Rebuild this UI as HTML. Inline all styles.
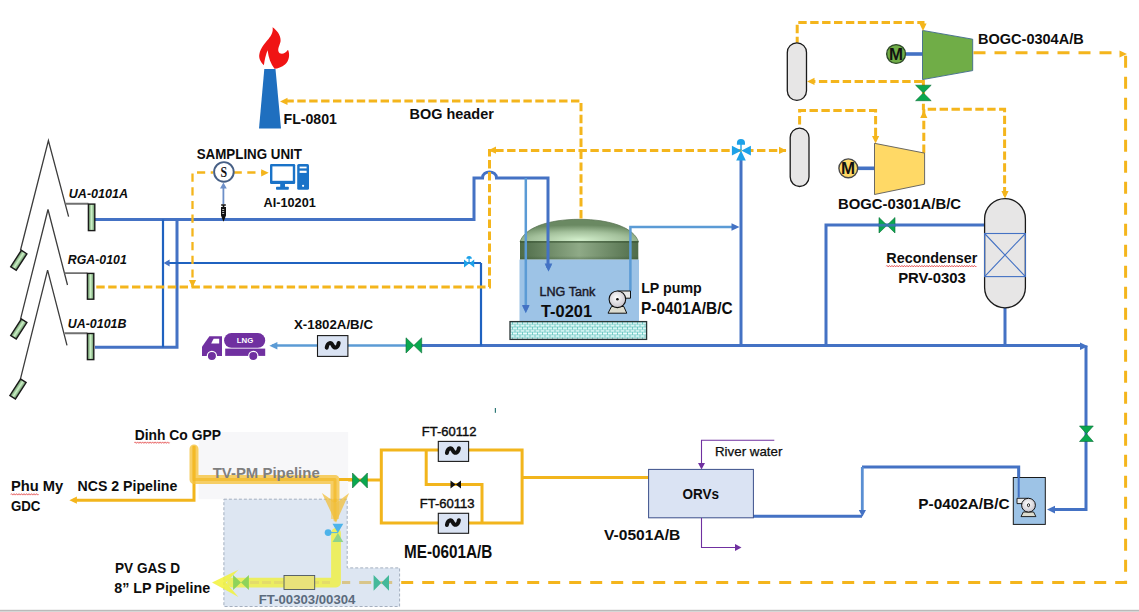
<!DOCTYPE html>
<html><head><meta charset="utf-8">
<style>
html,body{margin:0;padding:0;background:#fff;width:1139px;height:612px;overflow:hidden}
svg{position:absolute;left:0;top:0;display:block}
text{font-family:"Liberation Sans",sans-serif}
.b{font-weight:bold}
</style></head><body>
<svg width="1139" height="612" viewBox="0 0 1139 612">
<defs>
<linearGradient id="nz" x1="0" x2="1" y1="0" y2="0"><stop offset="0" stop-color="#5e8a5c"/><stop offset="0.5" stop-color="#cdf2c8"/><stop offset="1" stop-color="#5e8a5c"/></linearGradient>
</defs>
<rect x="0" y="609.8" width="1139" height="1.2" fill="#bababa"/><rect x="0" y="611" width="1139" height="1" fill="#d6d6d6"/>

<!-- ===== TANK ===== -->
<defs>
<radialGradient id="dome" cx="0.5" cy="1" r="0.75" fx="0.5" fy="0.9"><stop offset="0" stop-color="#d2eecb"/><stop offset="0.55" stop-color="#a3c09b"/><stop offset="1" stop-color="#6a8962"/></radialGradient>
<linearGradient id="band" x1="0" x2="1" y1="0" y2="0"><stop offset="0" stop-color="#4f6c49"/><stop offset="0.5" stop-color="#8faa87"/><stop offset="1" stop-color="#4f6c49"/></linearGradient>
<linearGradient id="bandv" x1="0" x2="0" y1="0" y2="1"><stop offset="0" stop-color="#2f4a2a" stop-opacity="0.9"/><stop offset="0.12" stop-color="#2f4a2a" stop-opacity="0"/><stop offset="0.8" stop-color="#2f4a2a" stop-opacity="0"/><stop offset="1" stop-color="#2f4a2a" stop-opacity="0.35"/></linearGradient>
<pattern id="brick" width="5" height="5.2" patternUnits="userSpaceOnUse" x="510" y="321.8">
<rect width="5" height="5.2" fill="#e6fafa"/>
<path d="M0 0H5M0 2.6H5M0 5.2H5M2.5 0V2.6M0 2.6V5.2M5 2.6V5.2" stroke="#52bdb5" stroke-width="0.7"/>
</pattern>
</defs>
<path d="M520 242C524 228 548 219.3 579.3 219.3C610.5 219.3 634.5 228 638.5 242Z" fill="url(#dome)" stroke="#56704f" stroke-width="0.7"/>
<rect x="520" y="241.3" width="118.3" height="18.3" fill="url(#band)"/>
<rect x="520" y="241.3" width="118.3" height="18.3" fill="url(#bandv)"/>
<rect x="519.5" y="259.6" width="119.5" height="62" fill="#9dc3e6"/>
<rect x="510" y="321.6" width="136.6" height="17.8" fill="url(#brick)" stroke="#2a3535" stroke-width="1.3"/>
<g fill="#5b9bd5"><path d="M522.3 306L525.8 313.2L529.3 306Z"/><path d="M545 264.5L548.5 271.5L552 264.5Z"/></g>

<!-- ===== PIPES BLUE ===== -->
<g fill="none" stroke="#4472c4" stroke-width="3">
<path d="M95 219.5H474V178H482.5C482.5 170 496.5 170 496.5 178H548V268"/>
<path d="M177 219.5V347.3H95"/>
<path d="M421 345.4H1083M1086 345.4V509.6H1050"/>
<path d="M741 157V345.4"/>
<path d="M984 225H826V345.4M1005 308V345.4"/>
<path d="M753 516.3H862M862 467H1018.7V498"/>
</g>
<g fill="none" stroke="#1f62c0" stroke-width="2.2">
<path d="M481 263H166M481 263V345.4M163 219.5V347.3"/>
</g>
<g fill="none" stroke="#5b9bd5" stroke-width="2.5">
<path d="M525.8 178V309"/>
<path d="M630.4 291V227H736"/>
<path d="M406 345.4H272"/>
<path d="M862.3 467V511" stroke-width="2.8" stroke="#5a8fd3"/>
</g>

<!-- ===== YELLOW DASHED ===== -->
<g fill="none" stroke="#f4b51c" stroke-width="3" stroke-dasharray="8.4 3.5">
<path d="M581 220V101H284" stroke-dashoffset="10.3"/>
<path d="M786 150.4H489.5V287H95" stroke-dashoffset="3.2"/>
<path d="M192.5 287V172.5H213" stroke-width="2.3" stroke-dasharray="8.2 5.5" stroke-dashoffset="4.3"/>
<path d="M233.6 172.5H264" stroke-width="2.3" stroke-dasharray="8.2 5.5"/>
<path d="M973.5 52.7H1120" stroke-dasharray="12 9"/>
<path d="M401 582.4H1125.6V53" stroke-dasharray="12 9" stroke-dashoffset="20.8"/>
<path d="M797.2 42.7V22.4H923V28" stroke-dashoffset="2.4"/>
<path d="M922.5 81.4H810"/>
<path d="M923.4 80V110M923.8 153V109.3H1004.6V196"/>
<path d="M799.6 124.5V110.6H875.6V140"/>
</g>

<!-- ===== YELLOW SOLID (bottom) ===== -->
<g fill="none" stroke="#f2b51c" stroke-width="3">
<path d="M73 500.2H194V446"/>
<path d="M337 480H381.3"/>
<path d="M381.3 450H522.1V523.1H381.3Z"/>
<path d="M426.2 450V484.5H482V523.1"/>
<path d="M522.1 477.4H648.4"/>
</g>


<!-- ===== LOADING ARMS ===== -->
<g fill="none" stroke="#3c3c3c" stroke-width="1.3">
<path d="M20.4 250.5L48.4 140.7L68.6 216.7"/>
<path d="M20.4 319.6L48 209.5L67.5 285"/>
<path d="M20.4 379.2L47.6 270.1L67 345.4"/>
<path d="M65.4 203.8H88.4M64.5 273.1H87.4M64.5 333.3H87.4" stroke="#707070" stroke-width="1.9"/>
</g>
<g fill="url(#nz)" stroke="#1a1a1a" stroke-width="1.4">
<rect x="88.4" y="204.1" width="6.4" height="26.5"/>
<rect x="87.4" y="273.4" width="6.4" height="25.8"/>
<rect x="87.4" y="333.5" width="6.4" height="26.1"/>
<rect x="-3.3" y="-9.8" width="6.6" height="19.6" transform="translate(18.8 260.3) rotate(33)"/>
<rect x="-3.3" y="-9.8" width="6.6" height="19.6" transform="translate(18.8 329) rotate(33)"/>
<rect x="-3.3" y="-9.8" width="6.6" height="19.6" transform="translate(18 389) rotate(33)"/>
</g>

<!-- ===== FLARE ===== -->
<path d="M264.3 69H275.5L281 128.4H259Z" fill="#1f6fbf"/>
<path d="M272.5 27.3C276.5 30 281 35 280.6 41C280 45 277.5 48 278.5 51.5C279.5 54.5 284.5 55 288 49.8C290 54 289.5 61 285 64.5C282 67 277.5 68.6 274.5 68.8C271 64 268.5 58 267.6 50.2C266 54 264.5 60 263.9 65.3C260.5 62 258.5 58 259.4 54C260.5 48 265 43 268.5 39C271.5 35.5 273.5 31 272.5 27.3Z" fill="#f01414"/>

<!-- ===== SAMPLING ===== -->
<circle cx="223.9" cy="171.9" r="9.8" fill="#fff" stroke="#465f85" stroke-width="1.9"/>
<text x="0" y="0" style="font-family:'Liberation Serif',serif;font-weight:bold" font-size="14.5" text-anchor="middle" fill="#111" transform="translate(223.7 176.9) scale(0.82 1)">S</text>
<path d="M223.4 204V185" stroke="#6d8fc8" stroke-width="1.8"/>
<path d="M223.4 182.5L220 188.5H226.8Z" fill="#6d8fc8"/>
<path d="M221.2 204.3H225.8V205.8H224.3V207H226V215.5L223.5 221.8L221 215.5V207H222.7V205.8H221.2Z" fill="#111"/>
<path d="M222.2 209.5H224.2M222.2 211.5H224.2M222.2 213.5H224.2" stroke="#fff" stroke-width="0.7"/>
<!-- computer -->
<rect x="270" y="164" width="25.2" height="20" rx="1.2" fill="#1a73c8"/>
<rect x="272.4" y="166.4" width="20.4" height="14.4" fill="#fff"/>
<rect x="280.2" y="183.5" width="4.8" height="3.6" fill="#1a73c8"/>
<rect x="276" y="186.8" width="12.8" height="3" rx="0.8" fill="#1a73c8"/>
<rect x="297.2" y="164" width="11.8" height="25.8" rx="1.5" fill="#1a73c8"/>
<rect x="299.6" y="166.6" width="7" height="1.8" fill="#fff"/>
<rect x="299.6" y="170.7" width="7" height="2.2" fill="#fff"/>
<circle cx="303.1" cy="185.8" r="1.1" fill="#fff"/>

<!-- LP pump -->
<defs><radialGradient id="pg" cx="0.45" cy="0.4" r="0.6"><stop offset="0" stop-color="#ffffff"/><stop offset="1" stop-color="#c8c4cc"/></radialGradient></defs>
<path d="M611.5 306.5L608 313.2H626.8L623.8 306.5Z" fill="#dcdcd0" stroke="#111" stroke-width="1"/>
<path d="M617.5 291H630.5V298.2H623" fill="#e8e8e8" stroke="#111" stroke-width="1"/>
<circle cx="617.4" cy="299.3" r="8.3" fill="url(#pg)" stroke="#111" stroke-width="1.1"/>
<circle cx="617.4" cy="299.3" r="1.3" fill="#111"/>


<!-- ===== TRUCK ===== -->
<g fill="#7030a0">
<rect x="224.1" y="333.1" width="41.1" height="14.7" rx="7.35"/>
<rect x="225.2" y="348.6" width="40" height="7.3"/>
<path d="M209.4 336.2H222V355.9H202V346.8Z"/>
<circle cx="211.9" cy="356" r="4.6" stroke="#fff" stroke-width="1.2"/>
<circle cx="253.3" cy="356" r="4.6" stroke="#fff" stroke-width="1.2"/>
</g>
<path d="M211.2 343.6L213.6 338.7H219.2V343.6Z" fill="#fff"/>
<text x="236.8" y="343" font-size="6.8" font-weight="bold" fill="#fff" textLength="16.5" lengthAdjust="spacingAndGlyphs">LNG</text>

<!-- ===== FILTER BOXES ===== -->
<g fill="#dae3f3" stroke="#1a1a1a" stroke-width="1.1">
<rect x="317.5" y="335.6" width="30.4" height="20.8"/>
<rect x="438.3" y="441.4" width="30.3" height="20"/>
<rect x="438.3" y="513.3" width="30.3" height="20"/>
</g>
<g fill="none" stroke="#111" stroke-width="4" stroke-linecap="round">
<path d="M-6 2.4C-5 -3.6 -1.5 -3 0 0C1.5 3 5 3.6 6 -2.4" transform="translate(332.7 345.3)"/>
<path d="M-6 2.4C-5 -3.6 -1.5 -3 0 0C1.5 3 5 3.6 6 -2.4" transform="translate(452.9 450.6)"/>
<path d="M-6 2.4C-5 -3.6 -1.5 -3 0 0C1.5 3 5 3.6 6 -2.4" transform="translate(452.9 522.6)"/>
</g>

<!-- ===== VALVES ===== -->
<g fill="#0aa84f" stroke="#0b6b35" stroke-width="0.6">
<path d="M406 337.8L421.7 353V337.8L406 353Z"/>
<path d="M879 217.5L895 233V217.5L879 233Z"/>
<path d="M352.5 473L367.4 488V473L352.5 488Z"/>
<path d="M915.6 85.2H931.2L915.6 100.7H931.2Z"/>
<path d="M1079.5 426H1093.3L1079.5 441.5H1093.3Z"/>
</g>
<path d="M878 225.2H896" stroke="#4472c4" stroke-width="2.8" stroke-opacity="0.75"/>
<path d="M450.5 480.5L461 488.5V480.5L450.5 488.5Z" fill="#111"/>
<g fill="#1da1e8">
<path d="M731.9 145.8L750.9 155.6V145.8L731.9 155.6Z"/>
<path d="M741 150.4L736.2 160.5H745.8Z"/>
<path d="M736.9 144.7V143.1A4.05 4.05 0 0 1 745 143.1V144.7Z"/>
<rect x="740.3" y="144" width="1.4" height="6"/>
<path d="M464 259.5L474.2 267.5V259.5L464 267.5Z"/>
<path d="M466.4 258.8A2.7 2.7 0 0 1 471.8 258.8Z"/>
<rect x="468.5" y="258" width="1.2" height="5"/>
</g>

<!-- ===== VESSELS ===== -->
<g fill="#e7e6e6" stroke="#1a1a1a" stroke-width="1.3">
<rect x="787.3" y="42.8" width="19.2" height="57.6" rx="9.6"/>
<rect x="790.2" y="128.1" width="18.8" height="58.4" rx="9.4"/>
<rect x="984.6" y="198.6" width="40.8" height="109.2" rx="20.4"/>
</g>
<g fill="none" stroke="#4472c4" stroke-width="1.1">
<rect x="984.6" y="233.5" width="40.8" height="43.1"/>
<path d="M984.6 233.5L1025.4 276.6M1025.4 233.5L984.6 276.6"/>
</g>

<!-- ===== COMPRESSORS ===== -->
<path d="M906 54H922.5" stroke="#4472c4" stroke-width="3.6"/>
<path d="M858 168.3H874.5" stroke="#4472c4" stroke-width="3.6"/>
<path d="M922.5 30.4L972.7 39.2V70.6L922.5 79.6Z" fill="#70ad47" stroke="#3f6a8a" stroke-width="0.9"/>
<path d="M874.5 143.3L924.6 153.1V184.2L874.5 194.5Z" fill="#ffd966" stroke="#5a5a5a" stroke-width="0.9"/>
<circle cx="896.1" cy="54" r="9.4" fill="#70ad47" stroke="#2f4a2a" stroke-width="1.4"/>
<circle cx="848.3" cy="168.3" r="9.4" fill="#ffd966" stroke="#4a4a4a" stroke-width="1.4"/>
<text x="0" y="0" font-size="15.6" font-weight="bold" text-anchor="middle" fill="#111" transform="translate(896 59.6) scale(1.08 1)">M</text>
<text x="0" y="0" font-size="15.6" font-weight="bold" text-anchor="middle" fill="#111" transform="translate(848.1 173.7) scale(1.08 1)">M</text>

<!-- ===== ORV ===== -->
<rect x="648.6" y="469.4" width="104.8" height="48.4" fill="#dae3f3" stroke="#3b4f8a" stroke-width="1"/>
<g fill="none" stroke="#7030a0" stroke-width="1.1">
<path d="M774.3 440.3H701.5V465M701.5 518V547.5H737"/>
</g>
<g fill="#7030a0">
<path d="M698 463L701.5 469.5L705 463Z"/>
<path d="M735 544L741.5 547.5L735 551Z"/>
</g>

<!-- ===== P-0402 ===== -->
<rect x="1013.3" y="477.5" width="32" height="46.9" fill="#9dc3e6" stroke="#1a1a1a" stroke-width="1"/>

<!-- ===== ARROWS ===== -->
<path fill="#4472c4" d="M548.5 271.5L544.7 263.5L552.3 263.5ZM525.8 313.0L522.0 305.0L529.6 305.0ZM739.5 227.0L731.5 223.2L731.5 230.8ZM163.6 263.0L169.6 259.6L169.6 266.4ZM1088.0 346.2L1080.0 342.4L1080.0 350.0ZM1047.0 509.6L1055.0 505.8L1055.0 513.4ZM862.4 516.8L858.8 510L866 510Z"/>
<path fill="#5b9bd5" d="M269.4 345.7L277.4 341.9L277.4 349.5Z"/>
<path fill="#f4b51c" d="M280.0 101.4L287.5 97.8L287.5 105.0ZM488.5 150.2L496.0 146.6L496.0 153.8ZM192.5 287.5L188.9 280.0L196.1 280.0ZM268.7 172.8L261.2 169.2L261.2 176.4ZM786.5 150.4L779.0 146.8L779.0 154.0ZM923.0 31.0L919.4 23.5L926.6 23.5ZM807.0 81.4L814.5 77.8L814.5 85.0ZM875.6 143.5L872.0 136.0L879.2 136.0ZM923.8 110.5L920.2 118.0L927.4 118.0ZM1005.0 198.5L1001.4 191.0L1008.6 191.0ZM1127.0 54.0L1119.5 50.4L1119.5 57.6ZM69.4 500.2L76.9 496.6L76.9 503.8Z"/>

<!-- P-0402 pump icon -->
<path d="M1018.7 466.9V497.5" stroke="#4472c4" stroke-width="2"/>
<path d="M1023.3 512L1021 516.6H1035.9L1033.6 512Z" fill="#dcdcd0" stroke="#111" stroke-width="0.9"/>
<path d="M1028.5 498.3H1017V503.6H1023" fill="#ececec" stroke="#111" stroke-width="0.9"/>
<circle cx="1028.5" cy="505.2" r="6.9" fill="url(#pg)" stroke="#111" stroke-width="1"/>
<ellipse cx="1028.5" cy="505.2" rx="1.1" ry="1.5" fill="none" stroke="#111" stroke-width="0.9"/>

<!-- ===== BOTTOM LEFT OVERLAY ===== -->
<rect x="198.6" y="432.1" width="149.6" height="67.1" fill="#f7f7f9"/>
<path d="M223.9 499.2H347.2V567.9H399.6V606.5H223.9Z" fill="#dde6f2" stroke="#a4afbf" stroke-width="1" stroke-dasharray="3 2"/>
<g fill="none" stroke-linecap="round" stroke-linejoin="round">
<path d="M194 449V479.5H335V498" stroke="#f5c340" stroke-opacity="0.8" stroke-width="9"/>
<path d="M335 499V519" stroke="#f5c340" stroke-opacity="0.55" stroke-width="8" stroke-linecap="butt"/>
<path d="M194 447V479.5H335V520" stroke="#f2b51c" stroke-opacity="0.6" stroke-width="3"/>
</g>
<path d="M321.9 493L336 522.7L349.2 493L336 503Z" fill="#f2bf3a" fill-opacity="0.75"/>
<path d="M339 479.5H352" stroke="#f2b51c" stroke-width="3"/>
<path d="M342 582.4H401" stroke="#d8c58a" stroke-width="3" stroke-dasharray="12 9" stroke-dashoffset="3.8"/>
<g fill="none" stroke-linecap="round" stroke-linejoin="round">
<path d="M336 533V582.6H232" stroke="#f0f03c" stroke-opacity="0.8" stroke-width="9.8"/>
</g>
<path d="M212 582.4L238.4 569.7L226 582.4L238.4 596.9Z" fill="#f2f23a" fill-opacity="0.85"/>
<path d="M250 582.4H330" stroke="#e0d070" stroke-width="3" stroke-dasharray="9 3" stroke-opacity="0.6"/>
<rect x="284" y="575.5" width="30.7" height="14" fill="#e8e27a" stroke="#4a5560" stroke-width="0.9"/>
<path d="M233.1 575L248.9 589.9V575L233.1 589.9Z" fill="#8ed35a"/>
<path d="M373.6 575L389 590.7V575L373.6 590.7Z" fill="#45b99a"/>
<g>
<path d="M332.5 523.8H343.3L337.9 533.1Z" fill="#4db3ea"/>
<path d="M332.5 542H343.3L337.9 533.1Z" fill="#8fd48a"/>
<circle cx="328.1" cy="532.6" r="3.4" fill="#4db3ea"/>
<path d="M328.1 532.6H337.9" stroke="#4db3ea" stroke-width="1"/>
</g>

<!-- wavy underlines -->
<g fill="none" stroke="#e03535" stroke-width="0.9">
<path d="M886.3 266.2q0.625 -1.4 1.25 0t1.25 0q0.625 -1.4 1.25 0t1.25 0q0.625 -1.4 1.25 0t1.25 0q0.625 -1.4 1.25 0t1.25 0q0.625 -1.4 1.25 0t1.25 0q0.625 -1.4 1.25 0t1.25 0q0.625 -1.4 1.25 0t1.25 0q0.625 -1.4 1.25 0t1.25 0q0.625 -1.4 1.25 0t1.25 0q0.625 -1.4 1.25 0t1.25 0q0.625 -1.4 1.25 0t1.25 0q0.625 -1.4 1.25 0t1.25 0q0.625 -1.4 1.25 0t1.25 0q0.625 -1.4 1.25 0t1.25 0q0.625 -1.4 1.25 0t1.25 0q0.625 -1.4 1.25 0t1.25 0q0.625 -1.4 1.25 0t1.25 0q0.625 -1.4 1.25 0t1.25 0q0.625 -1.4 1.25 0t1.25 0q0.625 -1.4 1.25 0t1.25 0q0.625 -1.4 1.25 0t1.25 0q0.625 -1.4 1.25 0t1.25 0q0.625 -1.4 1.25 0t1.25 0q0.625 -1.4 1.25 0t1.25 0q0.625 -1.4 1.25 0t1.25 0q0.625 -1.4 1.25 0t1.25 0q0.625 -1.4 1.25 0t1.25 0q0.625 -1.4 1.25 0t1.25 0q0.625 -1.4 1.25 0t1.25 0q0.625 -1.4 1.25 0t1.25 0q0.625 -1.4 1.25 0t1.25 0q0.625 -1.4 1.25 0t1.25 0q0.625 -1.4 1.25 0t1.25 0q0.625 -1.4 1.25 0t1.25 0q0.625 -1.4 1.25 0t1.25 0q0.625 -1.4 1.25 0t1.25 0"/>
<path d="M134.5 442.6q0.625 -1.4 1.25 0t1.25 0q0.625 -1.4 1.25 0t1.25 0q0.625 -1.4 1.25 0t1.25 0q0.625 -1.4 1.25 0t1.25 0q0.625 -1.4 1.25 0t1.25 0q0.625 -1.4 1.25 0t1.25 0q0.625 -1.4 1.25 0t1.25 0q0.625 -1.4 1.25 0t1.25 0q0.625 -1.4 1.25 0t1.25 0q0.625 -1.4 1.25 0t1.25 0q0.625 -1.4 1.25 0t1.25 0q0.625 -1.4 1.25 0t1.25 0q0.625 -1.4 1.25 0t1.25 0q0.625 -1.4 1.25 0t1.25 0"/>
<path d="M10.9 494.4q0.625 -1.4 1.25 0t1.25 0q0.625 -1.4 1.25 0t1.25 0q0.625 -1.4 1.25 0t1.25 0q0.625 -1.4 1.25 0t1.25 0q0.625 -1.4 1.25 0t1.25 0q0.625 -1.4 1.25 0t1.25 0q0.625 -1.4 1.25 0t1.25 0q0.625 -1.4 1.25 0t1.25 0q0.625 -1.4 1.25 0t1.25 0q0.625 -1.4 1.25 0t1.25 0q0.625 -1.4 1.25 0t1.25 0"/>
</g>
<rect x="494.8" y="408" width="1.2" height="4.8" fill="#2f7a78"/>

<!-- ===== LABELS ===== -->
<g class="b" fill="#0d0d0d">
<text x="283.5" y="123.8" font-size="14.5" textLength="53.5" lengthAdjust="spacingAndGlyphs">FL-0801</text>
<text x="409.5" y="119" font-size="14.5" textLength="84.3" lengthAdjust="spacingAndGlyphs">BOG header</text>
<text x="196.7" y="159" font-size="14.5" textLength="105.3" lengthAdjust="spacingAndGlyphs">SAMPLING UNIT</text>
<text x="263.6" y="207" font-size="12.5" textLength="52.2" lengthAdjust="spacingAndGlyphs">AI-10201</text>
<text x="294" y="329.4" font-size="13.5" textLength="79" lengthAdjust="spacingAndGlyphs">X-1802A/B/C</text>
<text x="541" y="317" font-size="17" textLength="51" lengthAdjust="spacingAndGlyphs">T-0201</text>
<text x="641.2" y="293" font-size="15" textLength="60.5" lengthAdjust="spacingAndGlyphs">LP pump</text>
<text x="641" y="313.6" font-size="17" textLength="91.6" lengthAdjust="spacingAndGlyphs">P-0401A/B/C</text>
<text x="978" y="43.5" font-size="15.5" textLength="105.7" lengthAdjust="spacingAndGlyphs">BOGC-0304A/B</text>
<text x="838" y="209.3" font-size="15" textLength="123" lengthAdjust="spacingAndGlyphs">BOGC-0301A/B/C</text>
<text x="886.3" y="262.9" font-size="15" textLength="91" lengthAdjust="spacingAndGlyphs">Recondenser</text>
<text x="898.2" y="282.6" font-size="15" textLength="67.6" lengthAdjust="spacingAndGlyphs">PRV-0303</text>
<text x="134.7" y="440" font-size="14.5" textLength="86.3" lengthAdjust="spacingAndGlyphs">Dinh Co GPP</text>
<text x="10.9" y="491.4" font-size="14.5" textLength="52.3" lengthAdjust="spacingAndGlyphs">Phu My</text>
<text x="10.9" y="511.3" font-size="14.5" textLength="29.5" lengthAdjust="spacingAndGlyphs">GDC</text>
<text x="77.6" y="491.4" font-size="14.5" textLength="99.7" lengthAdjust="spacingAndGlyphs">NCS 2 Pipeline</text>
<text x="115" y="572.6" font-size="14.5" textLength="65" lengthAdjust="spacingAndGlyphs">PV GAS D</text>
<text x="114.3" y="593.4" font-size="14.5" textLength="95.9" lengthAdjust="spacingAndGlyphs">8” LP Pipeline</text>
<text x="404" y="557.6" font-size="17.5" textLength="88.3" lengthAdjust="spacingAndGlyphs">ME-0601A/B</text>
<text x="682.4" y="499" font-size="14.5" textLength="36.6" lengthAdjust="spacingAndGlyphs">ORVs</text>
<text x="604" y="540.3" font-size="15.5" textLength="76.3" lengthAdjust="spacingAndGlyphs">V-0501A/B</text>
<text x="918.3" y="509.3" font-size="15" textLength="91.2" lengthAdjust="spacingAndGlyphs">P-0402A/B/C</text>
</g>
<g class="b" fill="#0d0d0d" font-style="italic">
<text x="68.8" y="197.9" font-size="12.7" textLength="59.3" lengthAdjust="spacingAndGlyphs">UA-0101A</text>
<text x="67.8" y="263.8" font-size="12.7" textLength="59" lengthAdjust="spacingAndGlyphs">RGA-0101</text>
<text x="67.8" y="327.8" font-size="12.7" textLength="58.6" lengthAdjust="spacingAndGlyphs">UA-0101B</text>
</g>
<g fill="#0d0d0d">
<text x="539.5" y="296" font-size="13" stroke="#1a1a2a" stroke-width="0.45" fill="#1a1a2a" textLength="55.8" lengthAdjust="spacingAndGlyphs">LNG Tank</text>
<text x="421.8" y="436" stroke="#0d0d0d" stroke-width="0.4" font-size="12.5" textLength="54.6" lengthAdjust="spacingAndGlyphs">FT-60112</text>
<text x="419.7" y="508" stroke="#0d0d0d" stroke-width="0.4" font-size="12.5" textLength="54.9" lengthAdjust="spacingAndGlyphs">FT-60113</text>
<text x="715" y="456.4" stroke="#0d0d0d" stroke-width="0.25" font-size="13" textLength="67.4" lengthAdjust="spacingAndGlyphs">River water</text>
</g>
<text x="212.7" y="478" font-size="14.5" class="b" fill="#7f7f7f" textLength="107" lengthAdjust="spacingAndGlyphs">TV-PM Pipeline</text>
<text x="258.8" y="604" font-size="12.5" font-weight="bold" fill="#5b6b7d" textLength="96.6" lengthAdjust="spacingAndGlyphs">FT-00303/00304</text>
</svg>
</body></html>
